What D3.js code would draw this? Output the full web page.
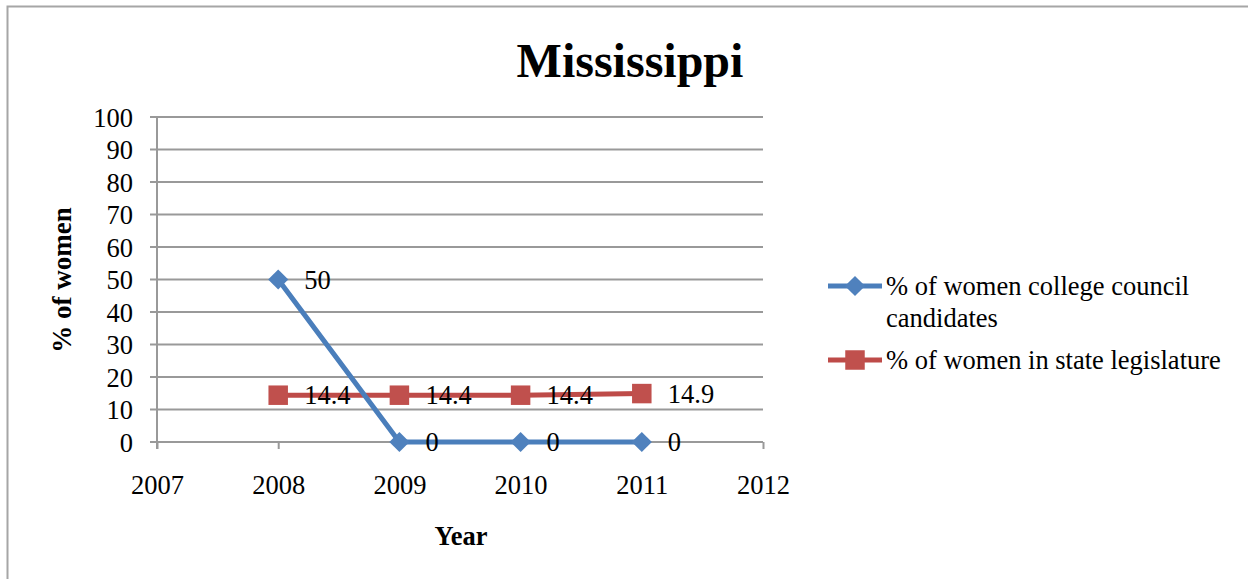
<!DOCTYPE html>
<html>
<head>
<meta charset="utf-8">
<script src="https://cdn.jsdelivr.net/npm/d3@7"></script>
<style>
  html, body { margin: 0; padding: 0; background: #fff; }
  svg { display: block; font-family: "Liberation Serif", "Times New Roman", serif; }
</style>
</head>
<body>
<svg id="chart" width="1248" height="579"></svg>
<script>
// Chart data
const years = [2008, 2009, 2010, 2011];
const councilCandidates = [50, 0, 0, 0];
const stateLegislature = [14.4, 14.4, 14.4, 14.9];
const yTicks = [0, 10, 20, 30, 40, 50, 60, 70, 80, 90, 100];
const xTicks = [2007, 2008, 2009, 2010, 2011, 2012];
const councilLegendLines = ["% of women college council", "candidates"];
const legislatureLegendLines = ["% of women in state legislature"];

const FONT = "'Liberation Serif', 'Times New Roman', serif";
const LABEL_SIZE = 26.5;

const svg = d3.select("#chart");

// Outer frame
svg.append("path")
  .attr("d", "M7.5,579 V6.5 H1248")
  .attr("fill", "none")
  .attr("stroke", "#a6a6a6")
  .attr("stroke-width", 2);

const x = d3.scaleLinear().domain([2007, 2012]).range([157, 763]);
const y = d3.scaleLinear().domain([0, 100]).range([442, 117]);

// Horizontal gridlines
svg.append("g")
  .selectAll("line")
  .data(yTicks)
  .join("line")
  .attr("x1", 150).attr("x2", x(2012))
  .attr("y1", d => y(d)).attr("y2", d => y(d))
  .attr("stroke", "#999").attr("stroke-width", 2);

// Y axis
const yAxis = svg.append("g")
  .attr("transform", `translate(${x(2007)},0)`)
  .call(d3.axisLeft(y).tickValues(yTicks).tickSize(0).tickPadding(24));
yAxis.select(".domain").remove();
yAxis.append("line")
  .attr("x1", 0).attr("x2", 0)
  .attr("y1", y(100)).attr("y2", y(0) + 7)
  .attr("stroke", "#999").attr("stroke-width", 2);
yAxis.selectAll("text")
  .attr("font-size", LABEL_SIZE)
  .attr("font-family", FONT)
  .attr("fill", "#000")
  .attr("dy", "0.35em");

// X axis
const xAxis = svg.append("g")
  .attr("transform", `translate(0,${y(0)})`)
  .call(d3.axisBottom(x).tickValues(xTicks).tickFormat(d3.format("d")).tickSize(7).tickPadding(26));
xAxis.select(".domain").remove();
xAxis.selectAll(".tick line").attr("stroke", "#999").attr("stroke-width", 2);
xAxis.selectAll("text")
  .attr("font-size", LABEL_SIZE)
  .attr("font-family", FONT)
  .attr("fill", "#000");

const blue = "#4F81BD", blueLine = "#4A7EBB";
const red = "#C0504D", redLine = "#BE4B48";

const line = d3.line().x(d => x(d[0])).y(d => y(d[1]));
const councilPts = years.map((yr, i) => [yr, councilCandidates[i]]);
const legisPts = years.map((yr, i) => [yr, stateLegislature[i]]);

const diamond = d3.symbol().type(d3.symbolDiamond2).size(260);
const square = d3.symbol().type(d3.symbolSquare).size(380);

// State legislature series
svg.append("path").datum(legisPts)
  .attr("d", line).attr("fill", "none")
  .attr("stroke", redLine).attr("stroke-width", 5);
svg.append("g").selectAll("path").data(legisPts).join("path")
  .attr("d", square)
  .attr("transform", d => `translate(${x(d[0])},${y(d[1])})`)
  .attr("fill", red);

// College council series
svg.append("path").datum(councilPts)
  .attr("d", line).attr("fill", "none")
  .attr("stroke", blueLine).attr("stroke-width", 5);
svg.append("g").selectAll("path").data(councilPts).join("path")
  .attr("d", diamond)
  .attr("transform", d => `translate(${x(d[0])},${y(d[1])})`)
  .attr("fill", blue);

// Data labels, right of each point
const labelFmt = d => (Number.isInteger(d) ? d3.format("d")(d) : d3.format(".1f")(d));
[councilPts, legisPts].forEach(pts => {
  svg.append("g").selectAll("text").data(pts).join("text")
    .attr("x", d => x(d[0]) + 26).attr("y", d => y(d[1]))
    .attr("dy", "0.35em").attr("font-size", LABEL_SIZE).attr("fill", "#000")
    .text(d => labelFmt(d[1]));
});

// Title and axis titles
svg.append("text")
  .attr("x", 630).attr("y", 77)
  .attr("text-anchor", "middle")
  .attr("font-size", 48).attr("font-weight", "bold")
  .text("Mississippi");
svg.append("text")
  .attr("transform", "translate(71,280) rotate(-90)")
  .attr("text-anchor", "middle")
  .attr("font-size", 27).attr("font-weight", "bold")
  .text("% of women");
svg.append("text")
  .attr("x", 461).attr("y", 545)
  .attr("text-anchor", "middle")
  .attr("font-size", LABEL_SIZE).attr("font-weight", "bold")
  .text("Year");

// Legend
const legend = svg.append("g");
const legendItems = [
  { lines: councilLegendLines, y: 286, color: blue, stroke: blueLine, sym: diamond },
  { lines: legislatureLegendLines, y: 360, color: red, stroke: redLine, sym: square }
];
legendItems.forEach(it => {
  legend.append("line")
    .attr("x1", 828).attr("x2", 882).attr("y1", it.y).attr("y2", it.y)
    .attr("stroke", it.stroke).attr("stroke-width", 5);
  legend.append("path")
    .attr("d", it.sym)
    .attr("transform", `translate(855,${it.y})`)
    .attr("fill", it.color);
  const t = legend.append("text").attr("font-size", LABEL_SIZE).attr("fill", "#000");
  it.lines.forEach((s, j) => {
    t.append("tspan").attr("x", 886).attr("y", it.y + 9 + j * 32).text(s);
  });
});
</script>
</body>
</html>
